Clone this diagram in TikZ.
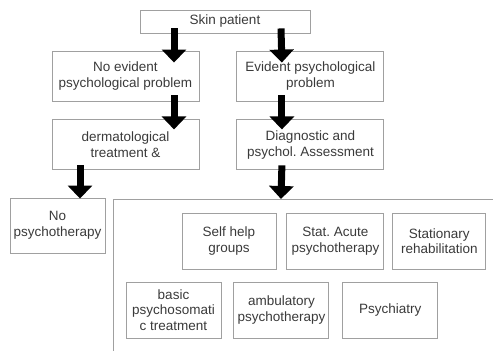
\documentclass[tikz,border=0pt]{standalone}
\usepackage{fontspec}
\setmainfont{Liberation Sans}
\usetikzlibrary{positioning, arrows.meta}

\definecolor{boxline}{HTML}{A0A0A0}
\definecolor{boxtext}{HTML}{3A3A3A}
\frenchspacing

\begin{document}
\begin{tikzpicture}[x=1pt, y=-1pt]
	% ----- Styles -----
	\tikzset{
		box/.style={
			rectangle, draw=boxline, line width=0.9pt, inner sep=0pt,
			align=center, text=boxtext,
			font=\fontsize{13.5}{15.5}\selectfont
		},
		topbox/.style={box, minimum width=170pt, minimum height=23pt},
		stepbox/.style={box, minimum width=147pt, minimum height=50pt},
		leafbox/.style={box, minimum width=95pt, minimum height=56pt},
		panel/.style={draw=boxline, line width=0.9pt},
		bigarrow/.style={draw=black, line width=7pt, -{Triangle[width=24pt, length=13pt]}}
	}
	\useasboundingbox (0,0) rectangle (493,351);
	% ----- Nodes -----
	\node (skin)   [topbox]  at (225,21.5) {Skin patient};
	\node (noev)   [stepbox] at (125.5,76) {No evident\\psychological problem};
	\node (ev)     [stepbox, right=37pt of noev] {Evident psychological\\problem};
	\node (derm)   [stepbox, below=18pt of noev] {dermatological\\treatment \&};
	\node (diag)   [stepbox, below=18pt of ev]   {Diagnostic and\\psychol. Assessment};

	\node (nopsy)  [leafbox, minimum height=55pt] at (57.5,225.5) {No\\psychotherapy};

	% therapy options panel (open to the right and bottom)
	\coordinate (panelnw) at (113,199);
	\draw[panel] (493,199) -- (panelnw) -- (113,351);

	\node (selfhelp) [leafbox, minimum width=94pt] at (229,241) {Self help\\groups};
	\node (acute)    [leafbox, minimum width=97pt, right=10pt of selfhelp] {Stat. Acute\\psychotherapy};
	\node (rehab)    [leafbox, minimum width=93pt, right=8pt of acute] {Stationary\\rehabilitation};

	\node (basic)  [leafbox] at (173.5,310) {basic\\psychosomati\\c treatment};
	\node (ambu)   [leafbox, right=12pt of basic] {ambulatory\\psychotherapy};
	\node (psych)  [leafbox, right=13pt of ambu]  {Psychiatry};

	% ----- Arrows -----
	\draw[bigarrow] ([xshift=-51pt, yshift=5pt]skin.south) -- ([xshift=48.5pt, yshift=-12pt]noev.north);
	\draw[bigarrow] ([xshift=56pt, yshift=5pt]skin.south) -- ([xshift=-28.5pt, yshift=-12pt]ev.north);
	\draw[bigarrow] ([xshift=48.5pt, yshift=6pt]noev.south) -- ([xshift=48.5pt, yshift=-10pt]derm.north);
	\draw[bigarrow] ([xshift=-28.5pt, yshift=6pt]ev.south) -- ([xshift=-28.5pt, yshift=-10pt]diag.north);
	\draw[bigarrow] ([xshift=-45.5pt, yshift=5pt]derm.south) -- ([xshift=22.5pt, yshift=-1pt]nopsy.north);
	\draw[bigarrow] ([xshift=-28.5pt, yshift=5pt]diag.south) -- ([xshift=168pt]panelnw);
\end{tikzpicture}
\end{document}
